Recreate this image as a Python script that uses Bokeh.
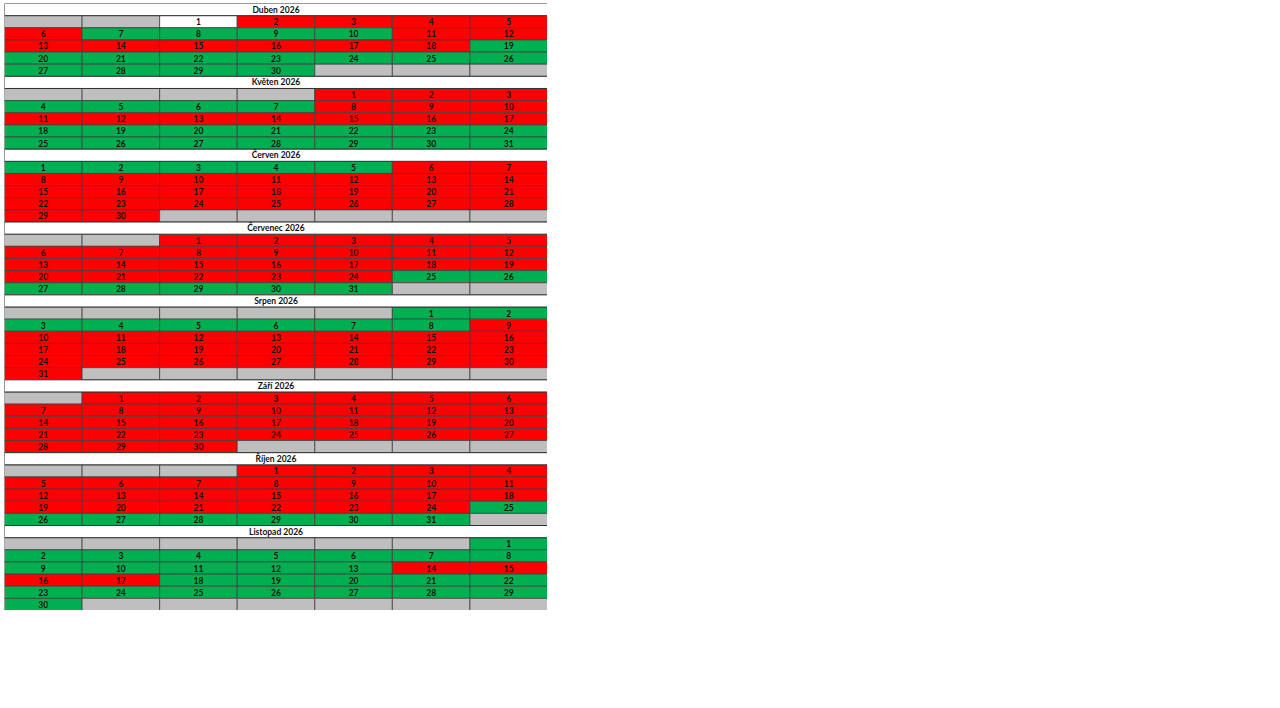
from bokeh.plotting import figure
from bokeh.models import ColumnDataSource, Range1d
from bokeh.embed import file_html
from bokeh.resources import INLINE
from bokeh.core.properties import value

# ---- data ----
month_titles = ["Duben 2026", "Květen 2026", "Červen 2026", "Červenec 2026",
                "Srpen 2026", "Září 2026", "Říjen 2026", "Listopad 2026"]
first_weekday = [2, 4, 0, 2, 5, 1, 3, 6]   # 0 = Monday column
days_in_month = [30, 31, 30, 31, 31, 30, 31, 30]
# status per day: R = red, G = green, W = white
status_duben    = "WRRRRRGGGGRRRRRRRRGGGGGGGGGGGG"
status_kveten   = "RRRGGGGRRRRRRRRRRGGGGGGGGGGGGGG"
status_cerven   = "GGGGGRRRRRRRRRRRRRRRRRRRRRRRRR"
status_cervenec = "RRRRRRRRRRRRRRRRRRRRRRRRGGGGGGG"
status_srpen    = "GGGGGGGGRRRRRRRRRRRRRRRRRRRRRRR"
status_zari     = "RRRRRRRRRRRRRRRRRRRRRRRRRRRRRR"
status_rijen    = "RRRRRRRRRRRRRRRRRRRRRRRRGGGGGGG"
status_listopad = "GGGGGGGGGGGGGRRRRGGGGGGGGGGGGG"
statuses = [status_duben, status_kveten, status_cerven, status_cervenec,
            status_srpen, status_zari, status_rijen, status_listopad]

COLORS = {"R": "#FF0000", "G": "#00B050", "W": "#FFFFFF", "E": "#BFBFBF"}
NCOL = 7

# ---- build cells ----
cl, cr, ct, cb, cf, tx, ty, tt = [], [], [], [], [], [], [], []
hl, hr, ht, hb, hx, hy, htxt = [], [], [], [], [], [], []
row = 0
for title, fw, nd, st in zip(month_titles, first_weekday, days_in_month, statuses):
    hl.append(0); hr.append(NCOL); ht.append(row); hb.append(row + 1)
    hx.append(NCOL / 2); hy.append(row + 0.5); htxt.append(title)
    row += 1
    nweeks = (fw + nd + NCOL - 1) // NCOL
    for w in range(nweeks):
        for c in range(NCOL):
            idx = w * NCOL + c - fw
            cl.append(c); cr.append(c + 1); ct.append(row); cb.append(row + 1)
            if 0 <= idx < nd:
                cf.append(COLORS[st[idx]])
                tx.append(c + 0.5); ty.append(row + 0.5); tt.append(str(idx + 1))
            else:
                cf.append(COLORS["E"])
        row += 1
NROWS = row

p = figure(width=543, height=607, output_backend="svg", toolbar_location=None,
           x_range=Range1d(0, NCOL), y_range=Range1d(NROWS, 0),
           min_border=0, min_border_left=0, min_border_right=0,
           min_border_top=0, min_border_bottom=0)
p.axis.visible = False
p.grid.visible = False
p.outline_line_color = None
p.background_fill_color = "white"
p.styles = {"margin-left": "4px", "margin-top": "3px"}

p.quad(left="l", right="r", top="t", bottom="b", fill_color="f",
       line_color="#404040", line_width=0.8,
       source=ColumnDataSource(dict(l=cl, r=cr, t=ct, b=cb, f=cf)))
p.quad(left="l", right="r", top="t", bottom="b", fill_color="white",
       line_color="#303030", line_width=1.0,
       source=ColumnDataSource(dict(l=hl, r=hr, t=ht, b=hb)))

p.text(x="x", y="y", text="t", source=ColumnDataSource(dict(x=tx, y=ty, t=tt)),
       text_font=value("Lato"), text_font_style="bold", text_font_size="8.5px",
       text_align="center", text_baseline="middle", text_color="#111111")
p.text(x="x", y="y", text="t", source=ColumnDataSource(dict(x=hx, y=hy, t=htxt)),
       text_font=value("Lato"), text_font_style="bold", text_font_size="8.5px",
       text_align="center", text_baseline="middle", text_color="#111111")

open("out.html", "w").write(file_html(p, INLINE))
